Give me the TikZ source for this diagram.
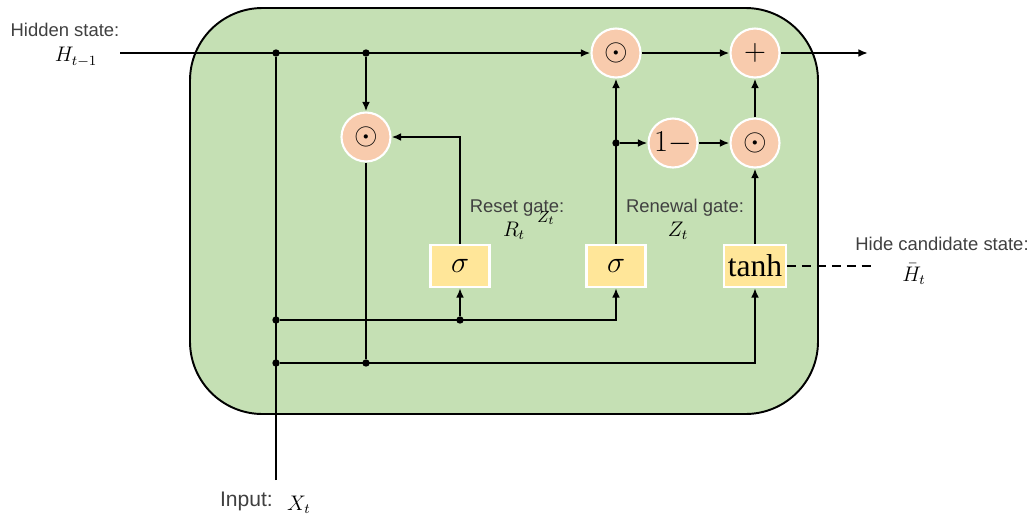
\documentclass[tikz,border=0pt]{standalone}
\usepackage{amsmath}
\usepackage{fontspec}
\setmainfont{Liberation Sans}
\newfontfamily\gateserif{Liberation Serif}
\usepackage{tikz}
\usetikzlibrary{arrows.meta}

\definecolor{cellgreen}{HTML}{C5E0B4}
\definecolor{opfill}{HTML}{F8CBAD}
\definecolor{gatefill}{HTML}{FFE699}
\definecolor{labelgray}{HTML}{404040}

\tikzset{
  opcirc/.style={circle, fill=opfill, draw=white, line width=1.2pt, minimum size=0.98cm, inner sep=0pt, font=\fontsize{17}{18}\selectfont},
  gatebox/.style={rectangle, fill=gatefill, draw=white, line width=1.2pt, minimum width=1.18cm, minimum height=0.84cm, inner sep=1pt, font=\fontsize{17}{18}\selectfont},
  conn/.style={line width=1.1pt, -{Latex[length=5.5pt,width=4.5pt]}},
  wire/.style={line width=1.1pt},
  jdot/.style={circle, fill=black, inner sep=0pt, minimum size=4.2pt},
  lbl/.style={text=labelgray, font=\fontsize{10.5}{12}\selectfont},
  mlbl/.style={font=\fontsize{12}{14}\selectfont}
}

\begin{document}
\begin{tikzpicture}[x=0.02cm,y=-0.02cm]
    \useasboundingbox (0,0) rectangle (1032,522);
    % cell
    \draw[fill=cellgreen, line width=1.1pt, rounded corners=1.45cm] (190,8) rectangle (818,414);

    % operators
    \node[opcirc] (mul1) at (366,137) {$\odot$};
    \node[opcirc] (mul2) at (616,53) {$\odot$};
    \node[opcirc] (plus) at (755,53) {$+$};
    \node[opcirc] (onem) at (673,143) {$1-$};
    \node[opcirc] (mul3) at (755,143) {$\odot$};

    % gates
    \node[gatebox] (sig1) at (460,266) {$\sigma$};
    \node[gatebox] (sig2) at (616,266) {$\sigma$};
    \node[gatebox, minimum width=1.24cm, font=\fontsize{18}{20}\gateserif] (tanhb) at (755,266) {tanh};

    % ends and junctions
    \coordinate (hin) at (120,53);
    \coordinate (hout) at (868,53);
    \coordinate (xin) at (276,480);
    \coordinate (hc) at (876,266);
    \node[jdot] (j1) at (276,53) {};
    \node[jdot] (j2) at (366,53) {};
    \node[jdot] (j3) at (276,320) {};
    \node[jdot] (j4) at (276,363) {};
    \node[jdot] (j5) at (460,320) {};
    \node[jdot] (j7) at (366,363) {};
    \node[jdot] (j8) at (616,143) {};

    % connectors
    \draw[conn] (hin) -- (mul2);
    \draw[conn] (mul2) -- (plus);
    \draw[conn] (plus) -- (hout);
    \draw[conn] (j2) -- (mul1);
    \draw[wire] (xin) -- (j1);
    \draw[wire] (mul1) -- (j7);
    \draw[conn] (sig1.north) |- (mul1);
    \draw[conn] (j3) -| (sig2);
    \draw[conn] (j5) -- (sig1);
    \draw[conn] (j4) -| (tanhb);
    \draw[conn] (sig2) -- (mul2);
    \draw[conn] (j8) -- (onem);
    \draw[conn] (onem) -- (mul3);
    \draw[conn] (tanhb) -- (mul3);
    \draw[conn] (mul3) -- (plus);
    \draw[wire, line width=0.9pt, dash pattern=on 5pt off 3.5pt] (tanhb) -- (hc);

    % labels
    \node[lbl] (hlbl) at (65,30) {Hidden state:};
    \node[mlbl] (hsym) at (76,57) {$H_{t-1}$};
    \node[lbl] (rlbl) at (517,208) {Reset gate:};
    \node[mlbl] (rsym) at (514,231) {$R_t$};
    \node[mlbl, font=\fontsize{9.5}{11}\selectfont] (zstray) at (546,218) {$Z_t$};
    \node[lbl] (zlbl) at (685,208) {Renewal gate:};
    \node[mlbl] (zsym) at (678,231) {$Z_t$};
    \node[lbl] (clbl) at (942,244) {Hide candidate state:};
    \node[mlbl, inner sep=1pt] (csym) at (914,274) {$\bar{H}_t$};
    \node[lbl, anchor=east, font=\fontsize{12}{14}\selectfont] (ilbl) at (279,501) {Input:};
    \node[mlbl, anchor=west] (xsym) at (281,505) {$X_t$};
\end{tikzpicture}
\end{document}
